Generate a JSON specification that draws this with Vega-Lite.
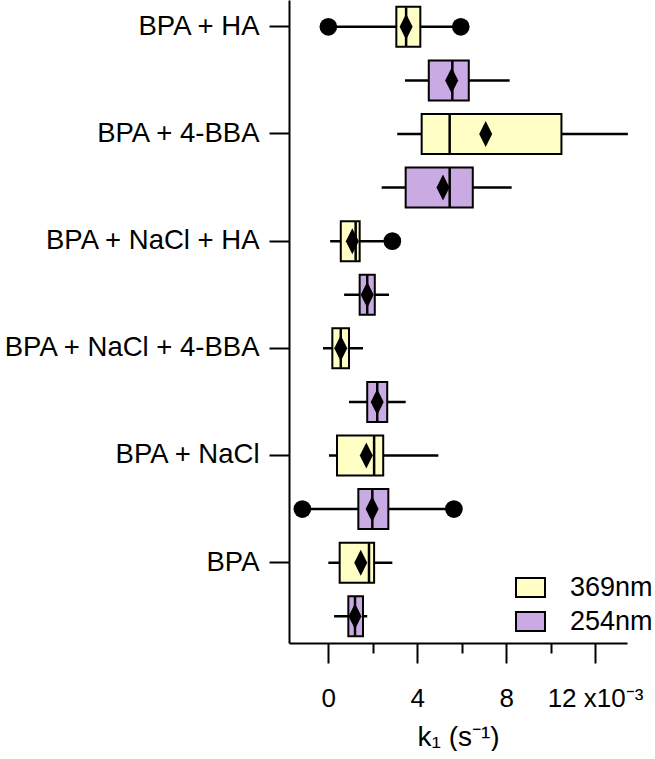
{
  "$schema": "https://vega.github.io/schema/vega-lite/v6.json",
  "width": 338,
  "height": 643,
  "padding": {"left": 2, "top": 0, "right": 0, "bottom": 0},
  "background": "white",
  "config": {
    "view": {"stroke": null},
    "font": "Liberation Sans",
    "axis": {"labelColor": "black", "titleColor": "black", "domainColor": "black", "tickColor": "black", "grid": false, "labelFont": "Liberation Sans", "titleFont": "Liberation Sans"},
    "legend": {"labelFont": "Liberation Sans", "labelColor": "black"}
  },
  "datasets": {
    "boxes": [
      {"cond": "BPA + HA", "wl": "369nm", "lo": 0.0, "q1": 3.06, "med": 3.5, "q3": 4.14, "hi": 5.96, "mean": 3.5},
      {"cond": "BPA + HA", "wl": "254nm", "lo": 3.45, "q1": 4.52, "med": 5.58, "q3": 6.32, "hi": 8.16, "mean": 5.55},
      {"cond": "BPA + 4-BBA", "wl": "369nm", "lo": 3.1, "q1": 4.2, "med": 5.46, "q3": 10.49, "hi": 13.48, "mean": 7.08},
      {"cond": "BPA + 4-BBA", "wl": "254nm", "lo": 2.4, "q1": 3.48, "med": 5.46, "q3": 6.5, "hi": 8.25, "mean": 5.16},
      {"cond": "BPA + NaCl + HA", "wl": "369nm", "lo": 0.08, "q1": 0.56, "med": 1.23, "q3": 1.41, "hi": 2.88, "mean": 1.08},
      {"cond": "BPA + NaCl + HA", "wl": "254nm", "lo": 0.71, "q1": 1.41, "med": 1.75, "q3": 2.09, "hi": 2.73, "mean": 1.75},
      {"cond": "BPA + NaCl + 4-BBA", "wl": "369nm", "lo": -0.24, "q1": 0.18, "med": 0.56, "q3": 0.93, "hi": 1.56, "mean": 0.56},
      {"cond": "BPA + NaCl + 4-BBA", "wl": "254nm", "lo": 0.93, "q1": 1.75, "med": 2.2, "q3": 2.65, "hi": 3.48, "mean": 2.2},
      {"cond": "BPA + NaCl", "wl": "369nm", "lo": 0.03, "q1": 0.39, "med": 2.06, "q3": 2.47, "hi": 4.95, "mean": 1.71},
      {"cond": "BPA + NaCl", "wl": "254nm", "lo": -1.17, "q1": 1.35, "med": 1.98, "q3": 2.7, "hi": 5.65, "mean": 1.97},
      {"cond": "BPA", "wl": "369nm", "lo": 0.0, "q1": 0.51, "med": 1.83, "q3": 2.06, "hi": 2.88, "mean": 1.46},
      {"cond": "BPA", "wl": "254nm", "lo": 0.26, "q1": 0.9, "med": 1.2, "q3": 1.56, "hi": 1.75, "mean": 1.2}
    ],
    "dots": [
      {"cond": "BPA + HA", "wl": "369nm", "k": 0.0},
      {"cond": "BPA + HA", "wl": "369nm", "k": 5.96},
      {"cond": "BPA + NaCl + HA", "wl": "369nm", "k": 2.88},
      {"cond": "BPA + NaCl", "wl": "254nm", "k": -1.17},
      {"cond": "BPA + NaCl", "wl": "254nm", "k": 5.65}
    ]
  },
  "encoding": {
    "y": {
      "field": "cond", "type": "nominal",
      "scale": {"domain": ["BPA + HA", "BPA + 4-BBA", "BPA + NaCl + HA", "BPA + NaCl + 4-BBA", "BPA + NaCl", "BPA"], "paddingInner": 0, "paddingOuter": 0},
      "axis": {"title": null, "bandPosition": 0.25, "labelOffset": -26.8, "labelFontSize": 27.5, "labelPadding": 10, "tickSize": 20, "tickWidth": 2, "domainWidth": 2, "labelLimit": 400}
    },
    "yOffset": {
      "field": "wl", "type": "nominal",
      "scale": {"domain": ["369nm", "254nm"], "paddingInner": 0, "paddingOuter": 0}
    }
  },
  "layer": [
    {
      "data": {"name": "boxes"},
      "mark": {"type": "rule", "color": "black", "strokeWidth": 2.5},
      "encoding": {
        "x": {
          "field": "lo", "type": "quantitative",
          "scale": {"domain": [-1.77, 13.44], "nice": false, "zero": false},
          "axis": {
            "values": [0, 2, 4, 6, 8, 10, 12],
            "tickSize": {"condition": {"test": "datum.value % 4 === 0", "value": 20}, "value": 10},
            "tickWidth": 2,
            "domainWidth": 2,
            "labelExpr": "datum.value === 12 ? '12 x10⁻³' : (datum.value % 4 === 0 ? datum.label : '')",
            "labelFontSize": 26,
            "labelPadding": 22,
            "title": "k₁ (s⁻¹)",
            "titleFontSize": 28,
            "titleFontWeight": "normal",
            "titlePadding": 12
          }
        },
        "x2": {"field": "hi"}
      }
    },
    {
      "data": {"name": "boxes"},
      "mark": {"type": "bar", "size": 40, "stroke": "black", "strokeWidth": 2, "opacity": 1},
      "encoding": {
        "x": {"field": "q1", "type": "quantitative"},
        "x2": {"field": "q3"},
        "fill": {
          "field": "wl", "type": "nominal",
          "scale": {"domain": ["369nm", "254nm"], "range": ["#FFFEC4", "#C9AAE3"]},
          "legend": {
            "title": null, "orient": "none", "legendX": 226, "legendY": 572,
            "symbolType": "M-1,-0.655H1V0.655H-1Z", "symbolSize": 841,
            "symbolStrokeColor": "black", "symbolStrokeWidth": 2,
            "labelFontSize": 27, "labelOffset": 24, "rowPadding": 5
          }
        }
      }
    },
    {
      "data": {"name": "boxes"},
      "mark": {"type": "tick", "orient": "vertical", "color": "black", "size": 39, "thickness": 2.5, "opacity": 1},
      "encoding": {
        "x": {"field": "med", "type": "quantitative"}
      }
    },
    {
      "data": {"name": "boxes"},
      "mark": {"type": "point", "shape": "M0,-1L0.5,0L0,1L-0.5,0Z", "filled": true, "color": "black", "size": 676, "opacity": 1},
      "encoding": {
        "x": {"field": "mean", "type": "quantitative"}
      }
    },
    {
      "data": {"name": "dots"},
      "mark": {"type": "circle", "color": "black", "size": 313, "opacity": 1},
      "encoding": {
        "x": {"field": "k", "type": "quantitative"}
      }
    }
  ]
}
